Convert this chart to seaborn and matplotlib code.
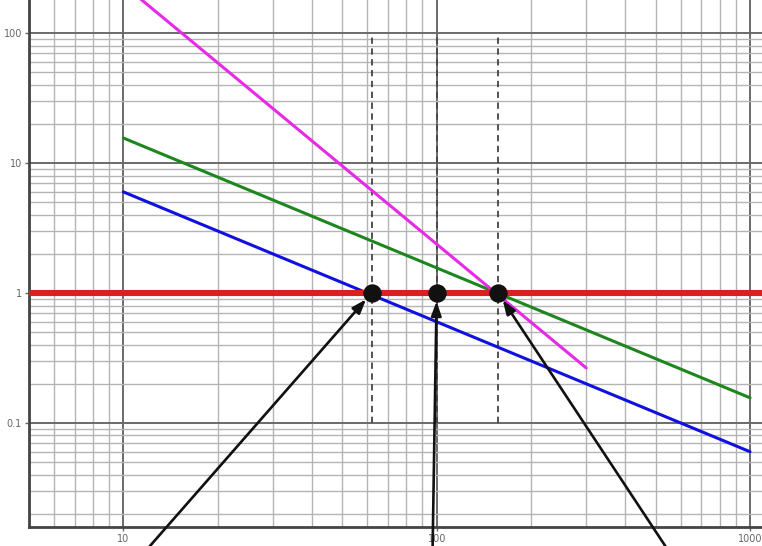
import numpy as np
import pandas as pd
import matplotlib
matplotlib.use("Agg")
import matplotlib.pyplot as plt
import seaborn as sns
from matplotlib.ticker import FixedLocator, FixedFormatter, LogLocator, NullFormatter

# ---- data ----
blue_x = [10, 1000]
blue_y = [6.0, 0.06]
green_x = [10, 1000]
green_y = [15.6, 0.156]
magenta_x = [10, 300]
magenta_y = [236, 0.265]
red_x = [5, 1100]
red_y = [1, 1]

dot_x = [62, 100, 157]
dot_y = [1, 1, 1]
dash_ymin = 0.1
dash_ymax = 100

arrow_tail_x = [11.6, 97, 556]

x_ticks = [10, 100, 1000]
x_labels = ["10", "100", "1000"]
y_ticks = [0.1, 1, 10, 100]
y_labels = ["0.1", "1", "10", "100"]

sns.set_theme(style="white")
plt.rcParams['font.family'] = ['DejaVu Sans']

fig = plt.figure(figsize=(7.62, 5.46), dpi=100)
ax = fig.add_axes([29/762, 19/546, 1 - 29/762, 1 - 19/546])
ax.set_xscale("log")
ax.set_yscale("log")
ax.set_xlim(5.0, 1092)
ax.set_ylim(0.0158, 180)

# grid
ax.xaxis.set_minor_locator(LogLocator(base=10, subs=np.arange(2, 10)))
ax.yaxis.set_minor_locator(LogLocator(base=10, subs=np.arange(2, 10)))
ax.xaxis.set_minor_formatter(NullFormatter())
ax.yaxis.set_minor_formatter(NullFormatter())
ax.grid(which="minor", color="#b4b4b4", linewidth=1.0)
ax.grid(which="major", color="#6a6a6a", linewidth=1.4)
ax.set_axisbelow(True)

lines = pd.concat([
    pd.DataFrame({"x": blue_x, "y": blue_y, "s": "blue"}),
    pd.DataFrame({"x": green_x, "y": green_y, "s": "green"}),
    pd.DataFrame({"x": magenta_x, "y": magenta_y, "s": "magenta"}),
])
palette = {"blue": "#1010e0", "green": "#1e861e", "magenta": "#e62ae6"}
sns.lineplot(data=lines, x="x", y="y", hue="s", palette=palette, linewidth=2.2,
             legend=False, ax=ax, estimator=None, sort=False, zorder=3)

sns.lineplot(x=red_x, y=red_y, color="#d92020", linewidth=4.4, ax=ax,
             estimator=None, zorder=4)

# dashed verticals
for xv in dot_x:
    ax.plot([xv, xv], [dash_ymin, dash_ymax], color="#444444", linewidth=1.3,
            linestyle=(0, (3.5, 2.5)), zorder=2.5)

sns.scatterplot(x=dot_x, y=dot_y, s=150, color="#111111", edgecolor="#111111",
                ax=ax, zorder=6, legend=False)

# arrows
for xd, yd, xt in zip(dot_x, dot_y, arrow_tail_x):
    ax.annotate("", xy=(xd, yd), xycoords="data",
                xytext=(xt, -0.05), textcoords=("data", "axes fraction"),
                arrowprops=dict(arrowstyle="-|>,head_length=0.7,head_width=0.25",
                                color="#111111", lw=1.9, shrinkA=0, shrinkB=6),
                annotation_clip=False, zorder=7)

ax.xaxis.set_major_locator(FixedLocator(x_ticks))
ax.xaxis.set_major_formatter(FixedFormatter(x_labels))
ax.yaxis.set_major_locator(FixedLocator(y_ticks))
ax.yaxis.set_major_formatter(FixedFormatter(y_labels))
ax.tick_params(axis="both", which="major", labelsize=7, labelcolor="#666666",
               length=3, width=1, color="#666666", pad=2, direction="out",
               bottom=True, left=True)
ax.tick_params(axis="both", which="minor", length=0)

for s in ["top", "right"]:
    ax.spines[s].set_visible(False)
for s in ["left", "bottom"]:
    ax.spines[s].set_color("#444444")
    ax.spines[s].set_linewidth(2)

ax.set_xlabel("")
ax.set_ylabel("")

fig.savefig("out.png", dpi=100)
